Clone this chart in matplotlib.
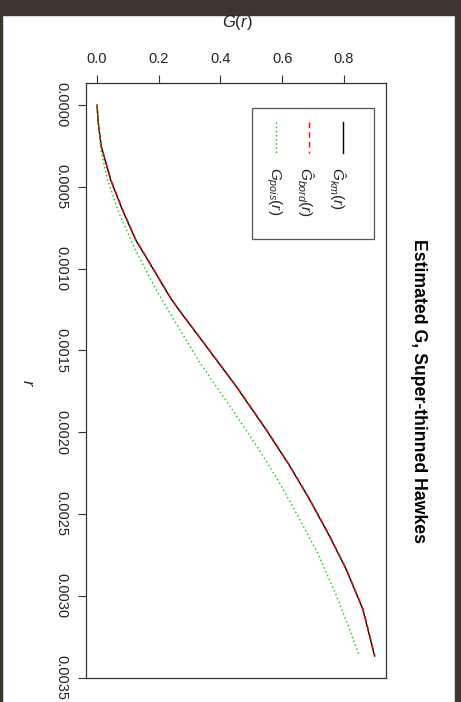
import numpy as np
import matplotlib
matplotlib.use("Agg")
import matplotlib.pyplot as plt
from matplotlib.patches import Rectangle
from matplotlib.lines import Line2D

# === fonts ===
plt.rcParams['font.family'] = ['Liberation Sans', 'DejaVu Sans']
plt.rcParams['mathtext.fontset'] = 'custom'
plt.rcParams['mathtext.rm'] = 'Liberation Sans'
plt.rcParams['mathtext.it'] = 'Liberation Sans:italic'

# === G-function estimates (r, G) ===
r_km = [0, 0.00010, 0.000254, 0.000458, 0.000641, 0.000824, 0.001028, 0.001186,
        0.001272, 0.001475, 0.00172, 0.001984, 0.002198, 0.002411, 0.002636,
        0.002839, 0.003083, 0.003368]
g_km = [0, 0.003, 0.0136, 0.044, 0.082, 0.125, 0.190, 0.240, 0.273, 0.354,
        0.451, 0.548, 0.622, 0.689, 0.754, 0.808, 0.862, 0.900]

r_bord = [0, 0.00010, 0.000254, 0.000458, 0.000641, 0.000824, 0.001028, 0.001186,
          0.001272, 0.001475, 0.00172, 0.001984, 0.002198, 0.002411, 0.002636,
          0.002839, 0.003083, 0.003368]
g_bord = [0, 0.003, 0.0138, 0.045, 0.083, 0.126, 0.191, 0.241, 0.274, 0.355,
          0.452, 0.549, 0.623, 0.690, 0.755, 0.809, 0.863, 0.901]

r_pois = [0, 0.000275, 0.000458, 0.000661, 0.000885, 0.001068, 0.001186, 0.001272,
          0.001577, 0.001842, 0.002086, 0.002285, 0.002473, 0.002737, 0.002981,
          0.003205, 0.003358]
g_pois = [0, 0.012, 0.034, 0.071, 0.124, 0.174, 0.209, 0.236, 0.334, 0.431,
          0.518, 0.584, 0.640, 0.715, 0.772, 0.819, 0.849]

g_ticks = [0.0, 0.2, 0.4, 0.6, 0.8]
r_ticks = [0.0, 0.0005, 0.0010, 0.0015, 0.0020, 0.0025, 0.0030, 0.0035]

W, H = 461, 702
fig = plt.figure(figsize=(W / 100, H / 100), dpi=100, facecolor='white')


def fx(px):
    return px / W


def fy(py):
    return 1 - py / H


# page frame
border = '#3d362e'
for x0, y0, w, h in [(0, 0, W, 15), (0, 0, 1.5, H), (455, 0, 6, H)]:
    fig.patches.append(Rectangle((fx(x0), fy(y0 + h)), w / W, h / H,
                                 transform=fig.transFigure, color=border, zorder=0))

# plot turned on its side: G runs left->right, r runs top->bottom
ax = fig.add_axes([fx(86), fy(678), fx(386) - fx(86), fy(83) - fy(678)])
ax.plot(g_km, r_km, color='black', lw=1.0, ls='-')
ax.plot(g_bord, r_bord, color='red', lw=1.0, ls=(0, (4, 3)))
ax.plot(g_pois, r_pois, color='#00cc00', lw=1.0, ls=(0, (1, 2)))
ax.margins(0.04)
ax.invert_yaxis()

for s in ax.spines.values():
    s.set_color('#333333')
    s.set_linewidth(0.9)

ax.xaxis.tick_top()
ax.set_xticks(g_ticks)
ax.set_xticklabels([f"{v:.1f}" for v in g_ticks], fontsize=10.5, color='#222222')
ax.set_yticks(r_ticks)
ax.set_yticklabels([f"{v:.4f}" for v in r_ticks], fontsize=10.5, color='#222222',
                   rotation=-90, va='center')
ax.tick_params(axis='x', length=5.5, width=0.8, pad=7, color='#333333')
ax.tick_params(axis='y', length=5.5, width=0.8, pad=7, color='#333333')

fig.text(fx(237), fy(23), r'$G(r)$', fontsize=12, ha='center', va='center',
         color='#222222')
fig.text(fx(27), fy(383), r'$r$', fontsize=12, ha='center', va='center',
         rotation=-90, color='#222222')
fig.text(fx(418), fy(391), 'Estimated G, Super-thinned Hawkes', fontsize=12.7,
         fontweight='bold', ha='center', va='center', rotation=-90)

# legend, drawn rotated with the plot
fig.patches.append(Rectangle((fx(252), fy(239)), (374 - 252) / W, (239 - 108) / H,
                             transform=fig.transFigure, fill=False,
                             edgecolor='#555555', lw=0.9))
entries = [(343.3, 337, 'black', '-', r'$\hat{G}_{km}(r)$'),
           (309.3, 305, 'red', (0, (4, 3)), r'$\hat{G}_{bord}(r)$'),
           (275.7, 274, '#00cc00', (0, (1, 2)), r'$G_{pois}(r)$')]
for lx, tx, col, ls, lab in entries:
    fig.lines.append(Line2D([fx(lx), fx(lx)], [fy(121.7), fy(153.3)],
                            transform=fig.transFigure, color=col, ls=ls, lw=1.0))
    fig.text(fx(tx), fy(167), lab, fontsize=11, rotation=-90, ha='center',
             va='top', color='#222222')

fig.savefig('out.png', dpi=100, facecolor='white')
